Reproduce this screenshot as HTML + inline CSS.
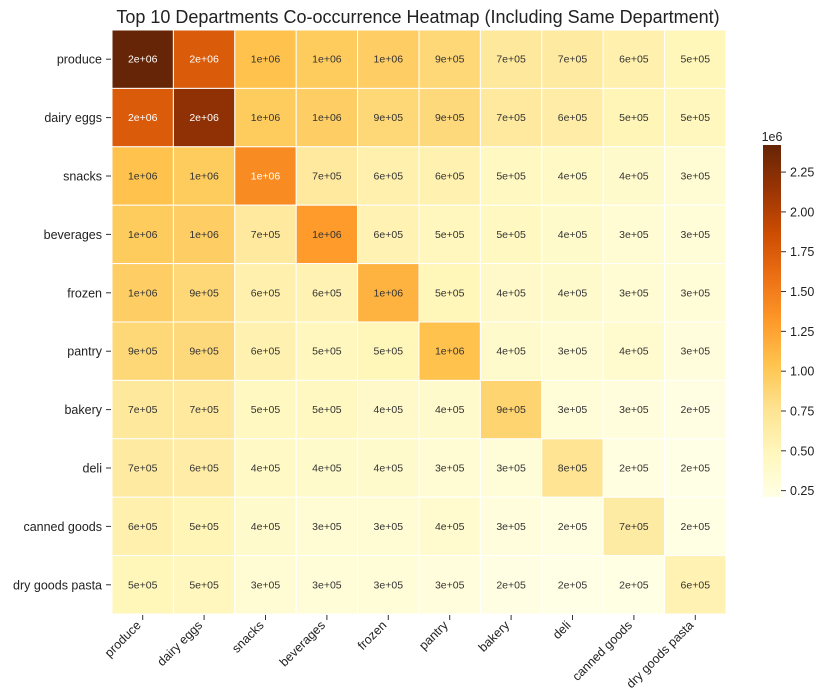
<!DOCTYPE html>
<html><head><meta charset="utf-8"><style>
body{margin:0;background:#fff;}
svg{display:block;font-family:"Liberation Sans","NanumGothic",sans-serif;}
</style></head><body>
<svg id="chart" width="831" height="697">
<defs><linearGradient id="cbgrad" x1="0" y1="1" x2="0" y2="0">
<stop offset="0" stop-color="#ffffe5"/><stop offset="0.125" stop-color="#fff7bc"/><stop offset="0.25" stop-color="#fee391"/><stop offset="0.375" stop-color="#fec44f"/><stop offset="0.5" stop-color="#fe9929"/><stop offset="0.625" stop-color="#ec7014"/><stop offset="0.75" stop-color="#cc4c02"/><stop offset="0.875" stop-color="#993404"/><stop offset="1" stop-color="#662506"/>
</linearGradient></defs>
<text x="418" y="23" text-anchor="middle" font-size="18" fill="#222">Top 10 Departments Co-occurrence Heatmap (Including Same Department)</text>
<g id="cells"></g><g id="axes"></g><g id="cbar"></g>
</svg>
<script>
const departments = ["produce","dairy eggs","snacks","beverages","frozen","pantry","bakery","deli","canned goods","dry goods pasta"];
const upperValues = [
 [2.42,1.75,1.05,0.98,0.95,0.87,0.70,0.66,0.58,0.50],
 [2.20,0.98,0.95,0.87,0.85,0.68,0.62,0.52,0.48],
 [1.40,0.68,0.58,0.57,0.46,0.42,0.38,0.33],
 [1.30,0.55,0.48,0.45,0.39,0.33,0.30],
 [1.15,0.50,0.40,0.38,0.34,0.30],
 [1.05,0.38,0.33,0.36,0.28],
 [0.90,0.30,0.28,0.23],
 [0.75,0.24,0.21],
 [0.65,0.22],
 [0.55]
];
const cbTicks = [0.25,0.5,0.75,1.0,1.25,1.5,1.75,2.0,2.25];
const vmin = 0.21, vmax = 2.42;

const NS="http://www.w3.org/2000/svg";
const X0=112,Y0=30,W=614,H=584,n=departments.length,cw=W/n,ch=H/n;
const stops=["#ffffe5","#fff7bc","#fee391","#fec44f","#fe9929","#ec7014","#cc4c02","#993404","#662506"].map(h=>[1,3,5].map(i=>parseInt(h.substr(i,2),16)));
function cmap(v){let t=Math.max(0,Math.min(1,(v-vmin)/(vmax-vmin)))*8;let i=Math.min(7,Math.floor(t)),f=t-i;return stops[i].map((c,k)=>c+(stops[i+1][k]-c)*f);}
function lum(c){const l=c.map(x=>{x/=255;return x<=0.03928?x/12.92:Math.pow((x+0.055)/1.055,2.4);});return 0.2126*l[0]+0.7152*l[1]+0.0722*l[2];}
function val(i,j){return i<=j?upperValues[i][j-i]:upperValues[j][i-j];}
function fmt(v){const e=v*1e6;let s=e.toExponential(0);let [m,ex]=s.split("e");let p=parseInt(ex);return m+"e"+(p<0?"-":"+")+String(Math.abs(p)).padStart(2,"0");}
function mk(tag,attrs,parent){const el=document.createElementNS(NS,tag);for(const k in attrs)el.setAttribute(k,attrs[k]);parent.appendChild(el);return el;}
const xs=j=>X0+j*cw, ys=i=>Y0+i*ch;
const cells=document.getElementById("cells"),axes=document.getElementById("axes"),cb=document.getElementById("cbar");
for(let i=0;i<n;i++)for(let j=0;j<n;j++){
 const v=val(i,j),c=cmap(v);
 const r=mk("rect",{x:xs(j),y:ys(i),width:cw,height:ch,fill:`rgb(${c.map(Math.round).join(",")})`,stroke:"#fff","stroke-width":1},cells);
 
 
 const t=mk("text",{x:xs(j)+cw/2,y:ys(i)+ch/2+3.5,"text-anchor":"middle","font-size":10.5,fill:lum(c)<0.408?"#fff":"#333"},cells);
 t.textContent=fmt(v);
 
 
}
departments.forEach((d,i)=>{
 const cy=ys(i)+ch/2;
 mk("line",{x1:X0-6,x2:X0-1,y1:cy,y2:cy,stroke:"#333"},axes);
 const t=mk("text",{x:X0-10,y:cy+4.5,"text-anchor":"end","font-size":12.5,fill:"#222"},axes);
 t.textContent=d;
 
 
 const cx=xs(i)+cw/2;
 mk("line",{x1:cx,x2:cx,y1:Y0+H+1,y2:Y0+H+6,stroke:"#333"},axes);
 const ax=cx-1, ay=Y0+H+12;
 const tx=mk("text",{x:ax,y:ay,"text-anchor":"end","font-size":12.5,fill:"#222",transform:`rotate(-45 ${ax} ${ay})`},axes);
 tx.textContent=d;
 
 
});
const CX=763,CW=18,CT=145,CB=497;
const cby=v=>CB-(v-vmin)/(vmax-vmin)*(CB-CT);
const bar=mk("rect",{x:CX,y:CT,width:CW,height:CB-CT,fill:"url(#cbgrad)"},cb);


cbTicks.forEach(v=>{
 const y=cby(v);
 mk("line",{x1:CX+CW,x2:CX+CW+5,y1:y,y2:y,stroke:"#333"},cb);
 const t=mk("text",{x:CX+CW+9,y:y+4.5,"font-size":12.5,fill:"#222"},cb);
 t.textContent=v.toFixed(2);
 
 
});
const ex=mk("text",{x:CX+CW/2,y:CT-4,"text-anchor":"middle","font-size":12.5,fill:"#222"},cb);
ex.textContent="1e6";


</script>
</body></html>
